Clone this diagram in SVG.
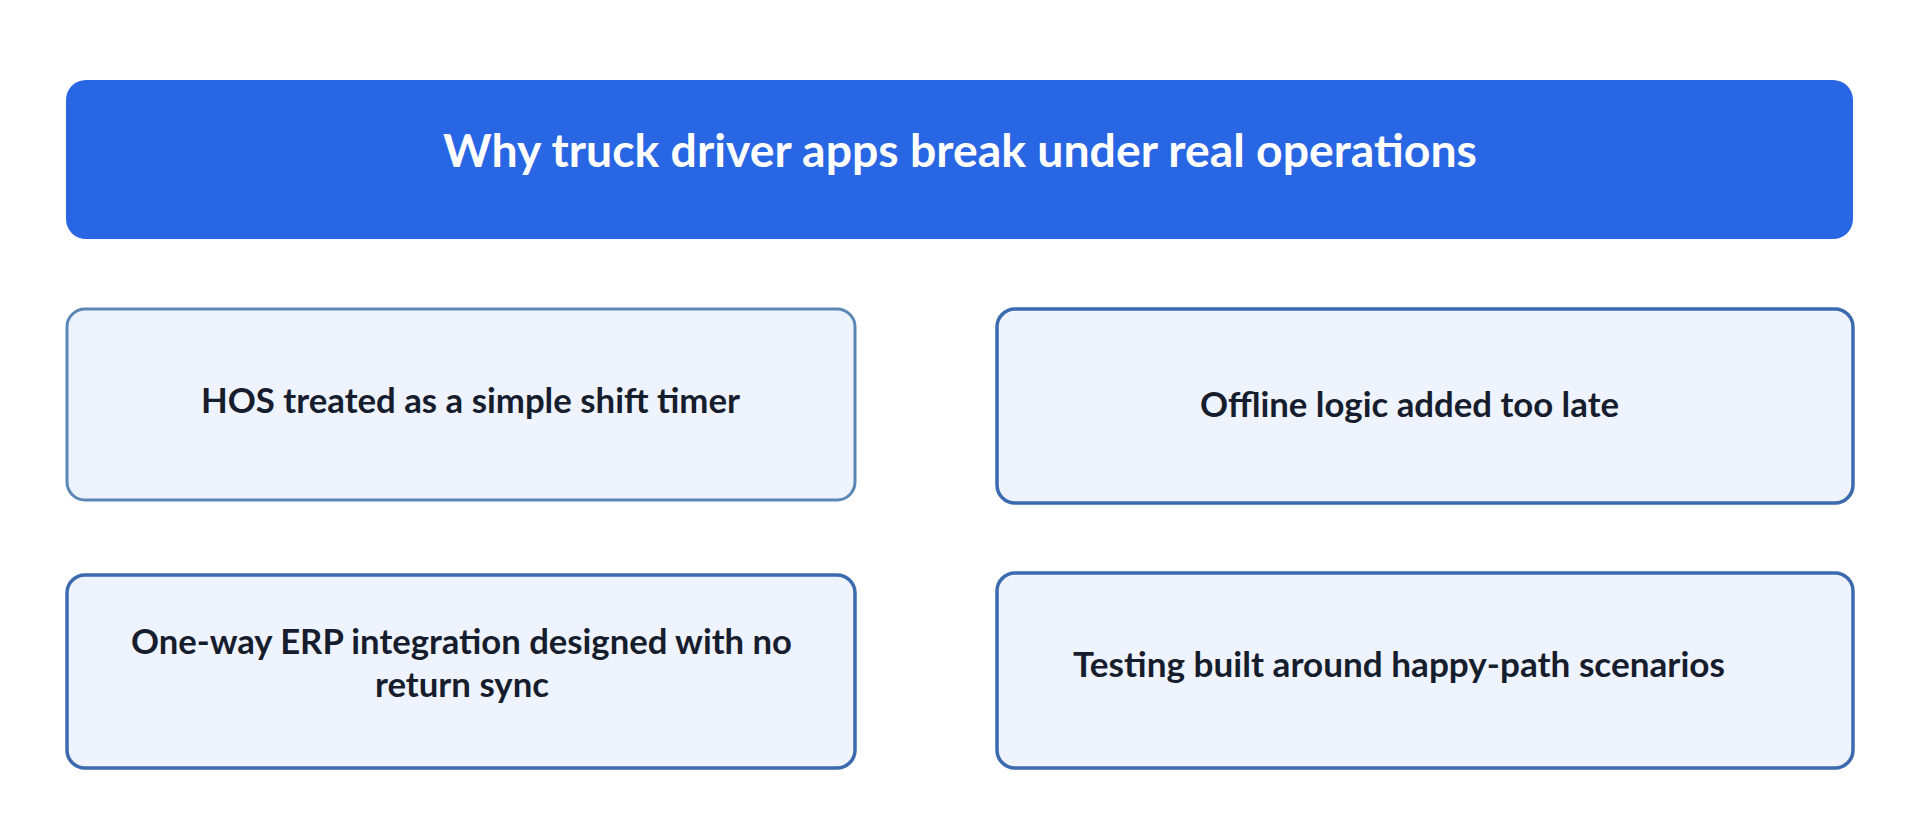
<svg xmlns="http://www.w3.org/2000/svg" width="1920" height="828" viewBox="0 0 1920 828">
  <style>
    .card { fill: #eef3fd; stroke: #3b6aae; stroke-width: 3.5; }
    .card1 { stroke: #5a87b5; stroke-width: 3; }
    .lbl { font-family: Lato, "Open Sans", "Liberation Sans", sans-serif; font-weight: 700; font-size: 34px; fill: #161d2d; text-anchor: middle; }
    .title { font-family: Lato, "Open Sans", "Liberation Sans", sans-serif; font-weight: 700; font-size: 45px; fill: #ffffff; text-anchor: middle; }
  </style>
  <rect x="0" y="0" width="1920" height="828" fill="#ffffff"/>
  <g id="header">
    <rect x="66" y="80" width="1787" height="159" rx="20" fill="#2966e3"/>
    <text class="title" x="960" y="167" textLength="1034" lengthAdjust="spacingAndGlyphs">Why truck driver apps break under real operations</text>
  </g>
  <g id="node-hos">
    <rect class="card card1" x="67" y="309" width="788" height="191" rx="18"/>
    <text class="lbl" x="470.5" y="413" textLength="539" lengthAdjust="spacingAndGlyphs">HOS treated as a simple shift timer</text>
  </g>
  <g id="node-offline">
    <rect class="card" x="997" y="309" width="856" height="194" rx="18"/>
    <text class="lbl" x="1409.5" y="417" textLength="419" lengthAdjust="spacingAndGlyphs">Offline logic added too late</text>
  </g>
  <g id="node-erp">
    <rect class="card" x="67" y="575" width="788" height="193" rx="18"/>
    <text class="lbl" x="461.5" y="654" textLength="661" lengthAdjust="spacingAndGlyphs">One-way ERP integration designed with no</text>
    <text class="lbl" x="462" y="697" textLength="174" lengthAdjust="spacingAndGlyphs">return sync</text>
  </g>
  <g id="node-testing">
    <rect class="card" x="997" y="573" width="856" height="195" rx="18"/>
    <text class="lbl" x="1399" y="677" textLength="652" lengthAdjust="spacingAndGlyphs">Testing built around happy-path scenarios</text>
  </g>
  <g id="connectors"/>
</svg>
